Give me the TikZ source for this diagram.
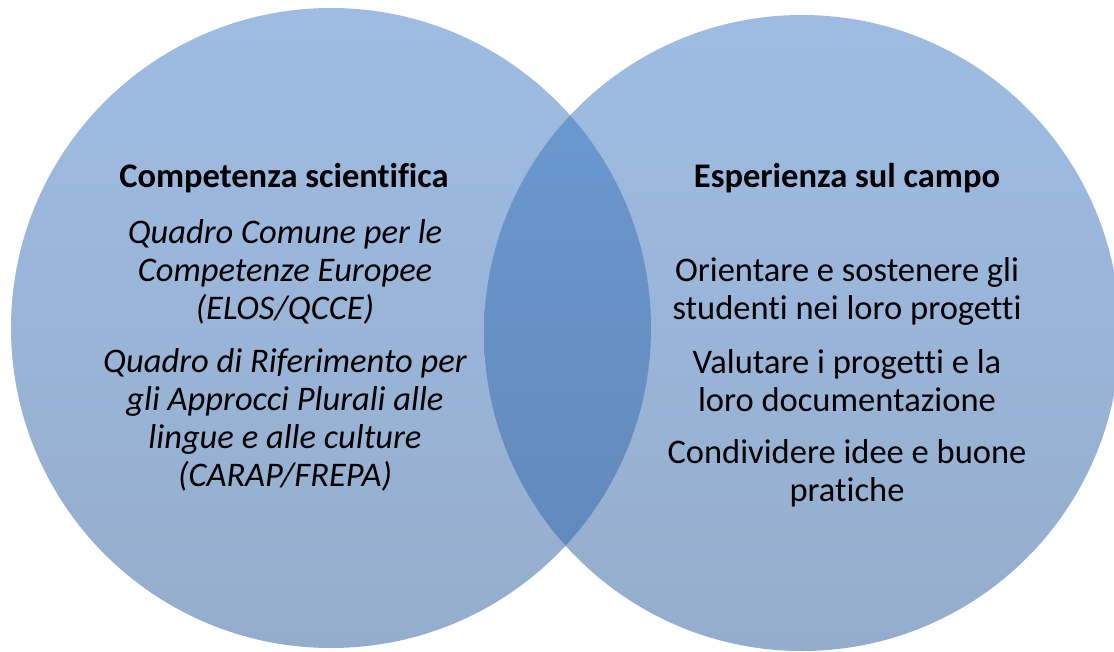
\documentclass[tikz,border=0pt]{standalone}
\usepackage{fontspec}
\setmainfont{Carlito}[Ligatures=NoCommon]
\definecolor{cerchiosu}{RGB}{158,188,227}
\definecolor{cerchiogiu}{RGB}{149,173,204}
\definecolor{lentesu}{RGB}{108,155,211}
\definecolor{lentegiu}{RGB}{97,134,183}
\tikzset{
  testo/.style={align=center, inner sep=0pt, font=\fontsize{34.5}{38}\selectfont},
  titolo/.style={align=center, inner sep=0pt, font=\fontsize{34.5}{38}\selectfont\bfseries},
  corsivo/.style={align=center, inner sep=0pt, font=\fontsize{34.5}{38}\selectfont\itshape}
}
\begin{document}
\begin{tikzpicture}[x=1pt, y=-1pt]
    \useasboundingbox (0,0) rectangle (1114,651);
    \clip (0,0) rectangle (1114,651);
    %cerchio sinistro
    \shade[top color=cerchiosu, bottom color=cerchiogiu] (331,328) circle (320);
    %cerchio destro
    \shade[top color=cerchiosu, bottom color=cerchiogiu] (802,333) circle (318);
    %intersezione
    \begin{scope}
        \clip (331,328) circle (320);
        \shade[top color=lentesu, bottom color=lentegiu] (802,333) circle (318);
    \end{scope}

    %testi a sinistra
    \node[titolo] (titsx) at (284,178) {Competenza scientifica};
    \node[corsivo] (qcce) at (285,272) {Quadro Comune per le\\Competenze Europee\\(ELOS/QCCE)};
    \node[corsivo] (carap) at (285,420) {Quadro di Riferimento per\\gli Approcci Plurali alle\\lingue e alle culture\\(CARAP/FREPA)};
    %testi a destra
    \node[titolo] (titdx) at (847,178) {Esperienza sul campo};
    \node[testo] (orientare) at (847,291) {Orientare e sostenere gli\\studenti nei loro progetti};
    \node[testo] (valutare) at (847,381) {Valutare i progetti e la\\loro documentazione};
    \node[testo] (condividere) at (847,473) {Condividere idee e buone\\pratiche};
\end{tikzpicture}
\end{document}
